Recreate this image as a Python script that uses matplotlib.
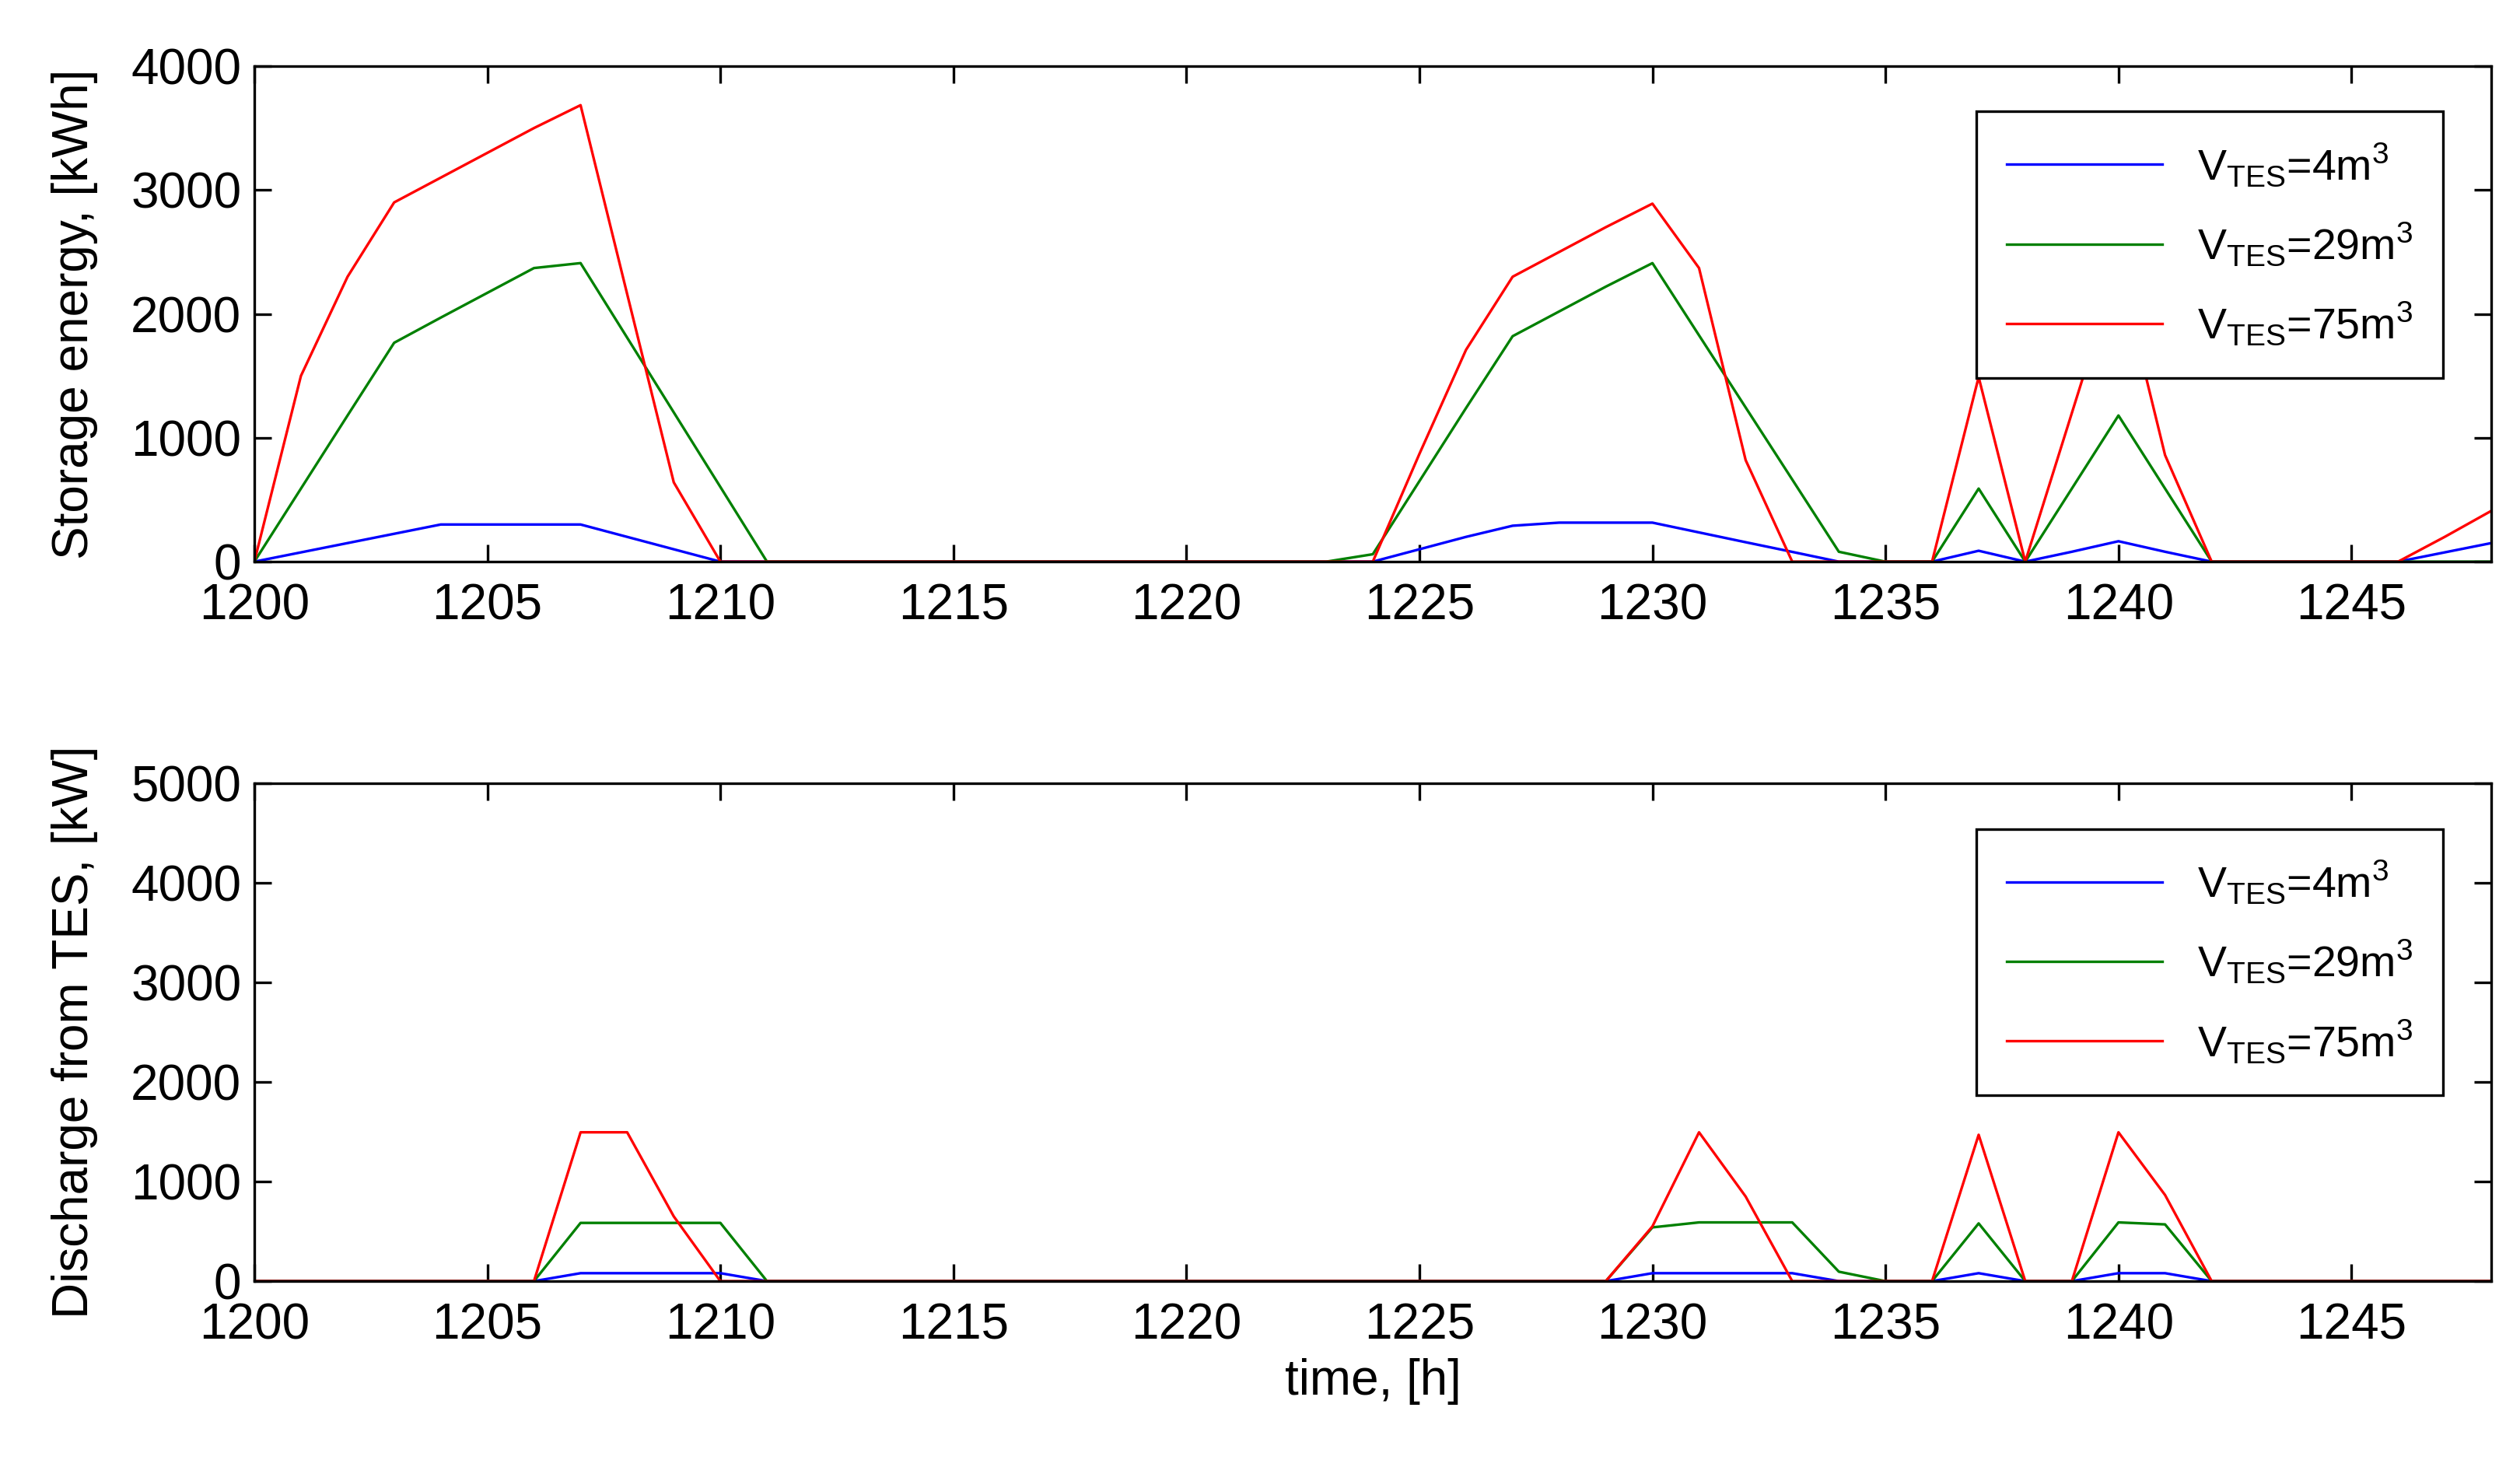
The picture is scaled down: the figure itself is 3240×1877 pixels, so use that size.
import numpy as np
import matplotlib.pyplot as plt

plt.rcParams['font.family'] = ['Liberation Sans', 'DejaVu Sans']
plt.rcParams['mathtext.fontset'] = 'custom'
plt.rcParams['mathtext.rm'] = 'Liberation Sans'

hours = np.arange(1200, 1249)

# storage energy [kWh], hourly values 1200..1248
e_4 = [0, 75, 150, 225, 300, 300, 300, 300, 200, 100, 0, 0, 0, 0, 0, 0, 0, 0, 0, 0,
       0, 0, 0, 0, 0, 100, 200, 290, 315, 315, 315, 236, 157, 79, 0, 0, 0, 88, 0, 80,
       165, 80, 0, 0, 0, 0, 0, 75, 150]
e_29 = [0, 590, 1180, 1767, 1970, 2170, 2370, 2410, 1808, 1205, 603, 0, 0, 0, 0, 0, 0, 0, 0, 0,
        0, 0, 0, 0, 60, 650, 1240, 1820, 2020, 2220, 2410, 1827, 1245, 663, 80, 0, 0, 590, 0, 590,
        1180, 590, 0, 0, 0, 0, 0, 0, 0]
e_75 = [0, 1500, 2300, 2900, 3100, 3300, 3500, 3685, 2160, 640, 0, 0, 0, 0, 0, 0, 0, 0, 0, 0,
        0, 0, 0, 0, 0, 870, 1710, 2300, 2500, 2700, 2890, 2370, 820, 0, 0, 0, 0, 1490, 0, 1200,
        2400, 860, 0, 0, 0, 0, 0, 200, 410]

# discharge from TES [kW]
d_4 = [0, 0, 0, 0, 0, 0, 0, 80, 80, 80, 80, 0, 0, 0, 0, 0, 0, 0, 0, 0,
       0, 0, 0, 0, 0, 0, 0, 0, 0, 0, 80, 80, 80, 80, 0, 0, 0, 80, 0, 0,
       80, 80, 0, 0, 0, 0, 0, 0, 0]
d_29 = [0, 0, 0, 0, 0, 0, 0, 585, 585, 585, 585, 0, 0, 0, 0, 0, 0, 0, 0, 0,
        0, 0, 0, 0, 0, 0, 0, 0, 0, 0, 540, 590, 590, 590, 95, 0, 0, 580, 0, 0,
        590, 570, 0, 0, 0, 0, 0, 0, 0]
d_75 = [0, 0, 0, 0, 0, 0, 0, 1495, 1495, 650, 0, 0, 0, 0, 0, 0, 0, 0, 0, 0,
        0, 0, 0, 0, 0, 0, 0, 0, 0, 0, 550, 1495, 850, 0, 0, 0, 0, 1470, 0, 0,
        1495, 865, 0, 0, 0, 0, 0, 0, 0]

labels = [r'V$_{\mathregular{TES}}$=4m$^3$', r'V$_{\mathregular{TES}}$=29m$^3$',
          r'V$_{\mathregular{TES}}$=75m$^3$']
colors = ['#0000ff', '#008000', '#ff0000']

fig = plt.figure(figsize=(16.205, 9.385), dpi=200)
ax1 = fig.add_axes([0.1009, 0.6153, 0.8874, 0.3394])
ax2 = fig.add_axes([0.1009, 0.1225, 0.8874, 0.3410])

for ax, series, ymax, ylab in [(ax1, [e_4, e_29, e_75], 4000, 'Storage energy, [kWh]'),
                               (ax2, [d_4, d_29, d_75], 5000, 'Discharge from TES, [kW]')]:
    for s, c, l in zip(series, colors, labels):
        ax.plot(hours, s, color=c, lw=1.2, label=l)
    ax.set_xlim(1200, 1248)
    ax.set_ylim(0, ymax)
    ax.set_xticks(np.arange(1200, 1248, 5))
    ax.set_yticks(np.arange(0, ymax + 1, 1000))
    ax.tick_params(direction='in', top=True, right=True, labelsize=23, length=8, width=1.2, pad=6)
    ax.tick_params(axis='x', pad=10)
    ax.set_ylabel(ylab, fontsize=23)
    for sp in ax.spines.values():
        sp.set_linewidth(1.2)
    leg = ax.legend(loc='upper right', bbox_to_anchor=(0.988, 0.952), fontsize=20,
                    fancybox=False, framealpha=1, edgecolor='black',
                    handlelength=3.6, labelspacing=0.75, borderpad=0.7)
    leg.get_frame().set_linewidth(1.2)

ax1.yaxis.set_label_coords(-0.07, 0.5)
ax2.yaxis.set_label_coords(-0.07, 0.5)
ax2.set_xlabel('time, [h]', fontsize=23)

fig.savefig('out.png')
